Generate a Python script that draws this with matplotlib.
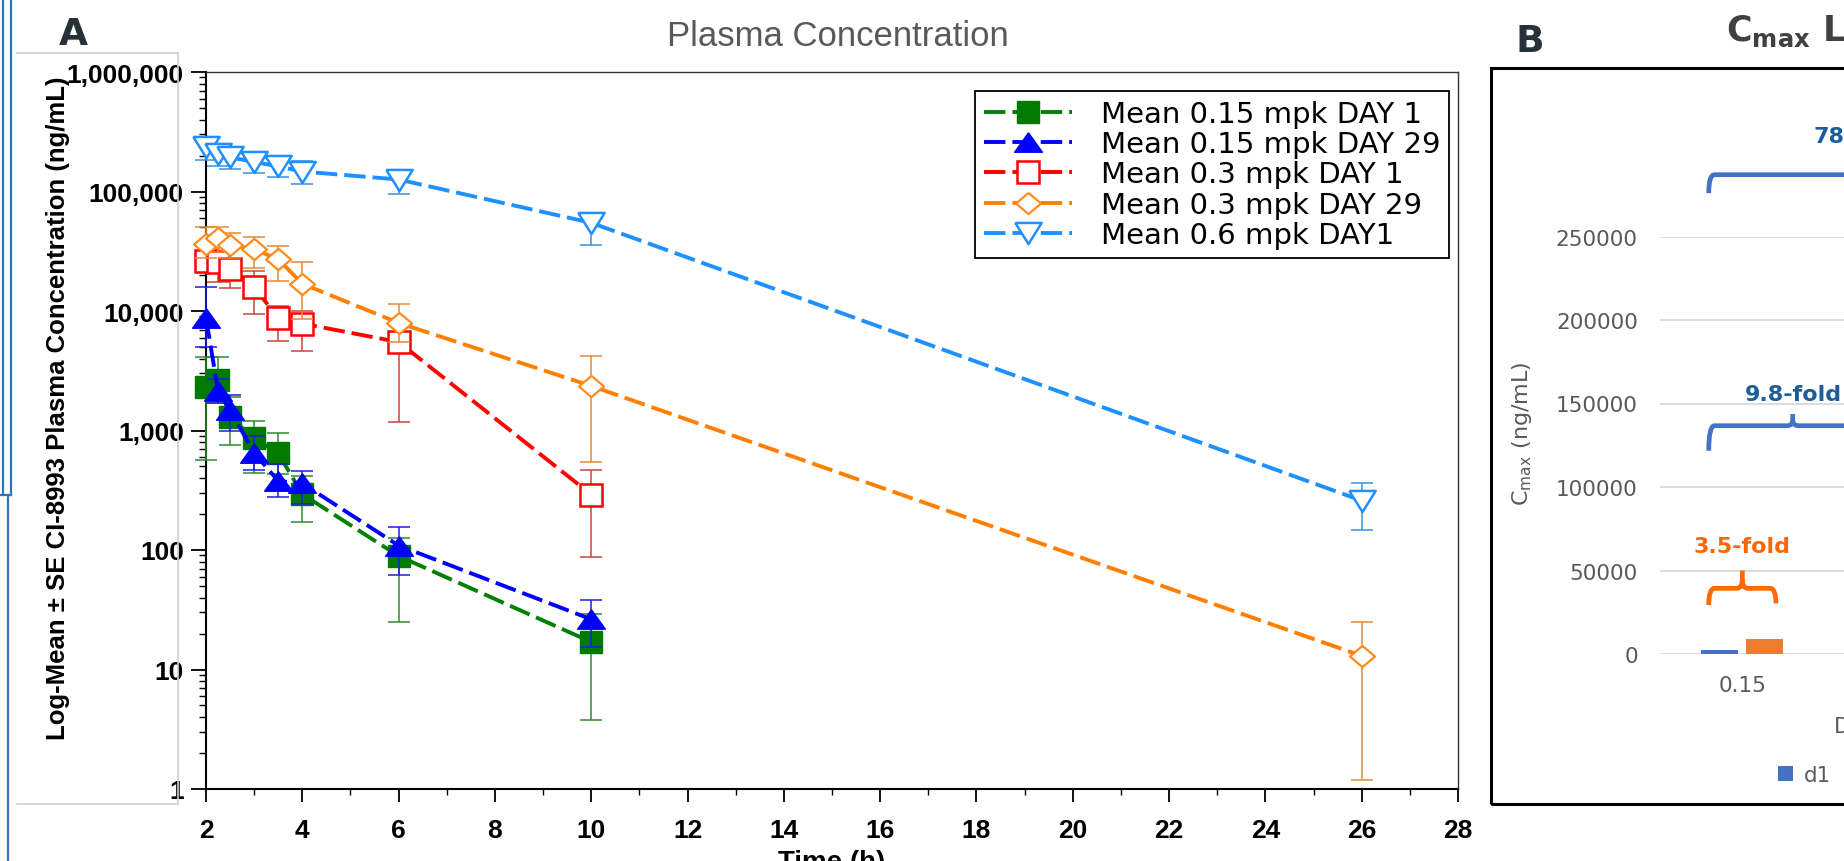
import numpy as np
import matplotlib
matplotlib.use("Agg")
import matplotlib.pyplot as plt
from matplotlib.path import Path
from matplotlib.patches import PathPatch, Rectangle
from matplotlib.lines import Line2D
from matplotlib.ticker import (FixedLocator, FixedFormatter, MultipleLocator,
                               LogLocator, NullFormatter)

# ---------------- data : panel A (plasma concentration, ng/mL) ----------------
TIME_SHORT = [2, 2.25, 2.5, 3, 3.5, 4, 6, 10]
TIME_LONG = [2, 2.25, 2.5, 3, 3.5, 4, 6, 10, 26]

d1_015_mean = [2320, 2650, 1290, 860, 645, 293, 89, 17]
d1_015_lo = [562, 1700, 760, 443, 430, 171, 25, 3.8]
d1_015_hi = [4100, 4100, 1900, 1210, 962, 414, 125, 29]

d29_015_mean = [8800, 2140, 1480, 649, 378, 361, 109, 26.3]
d29_015_lo = [5000, 1700, 1000, 470, 276, 242, 62, 15.3]
d29_015_hi = [16000, 2700, 2000, 900, 520, 458, 155, 38]

d1_03_mean = [26200, 25700, 22400, 15900, 8700, 7850, 5500, 291]
d1_03_lo = [21000, 17500, 15500, 9400, 5570, 4600, 1170, 87]
d1_03_hi = [30000, 30500, 27000, 21600, 11100, 10000, 7600, 467]

d29_03_mean = [36200, 40700, 35700, 32900, 27100, 16900, 7950, 2360, 13.0]
d29_03_lo = [28000, 31000, 28000, 23000, 17800, 8600, 5500, 541, 1.2]
d29_03_hi = [50600, 50000, 45000, 41700, 35000, 25800, 11400, 4200, 25]

d1_06_mean = [234000, 205000, 193000, 177000, 162000, 147000, 126000, 54700, 259]
d1_06_lo = [183000, 164000, 154000, 144000, 131000, 115000, 96000, 36000, 148]
d1_06_hi = [280000, 245000, 225000, 216000, 199000, 181000, 150000, 66000, 363]

SERIES_LABELS = ["Mean 0.15 mpk DAY 1", "Mean 0.15 mpk DAY 29", "Mean 0.3 mpk DAY 1",
                 "Mean 0.3 mpk DAY 29", "Mean 0.6 mpk DAY1"]

Y_TICKS = [1, 10, 100, 1000, 10000, 100000, 1000000]
Y_TICK_LABELS = ["1", "10", "100", "1,000", "10,000", "100,000", "1,000,000"]

# ---------------- data : panel B (Cmax bars) ----------------
DOSES = ["0.15", "0.3", "0.6"]
CMAX_D1 = [2600, 25000, 200000]
CMAX_D29 = [9100, 40000, np.nan]
B_Y_TICKS = [0, 50000, 100000, 150000, 200000, 250000]
FOLD_TEXT = ["3.5-fold", "9.8-fold", "78-fold"]

W, H = 1844, 862


def fx(px):
    return px / W


def fy(py):
    return 1 - py / H


plt.rcParams['font.family'] = ['Liberation Sans', 'DejaVu Sans']
fig = plt.figure(figsize=(W / 100, H / 100), dpi=100)

# ==================================================
# Panel A
# ==================================================
ax = fig.add_axes([fx(206), fy(790), fx(1458) - fx(206), fy(73) - fy(790)])

tri_up = [(0, 0.7), (-1, -0.7), (1, -0.7), (0, 0.7)]
tri_down = [(-1, 0.8), (1, 0.8), (0, -0.8), (-1, 0.8)]
diamond = [(0, 0.85), (1, 0), (0, -0.85), (-1, 0), (0, 0.85)]

series = [
    (TIME_SHORT, d1_015_mean, d1_015_lo, d1_015_hi,
     dict(lc='#008000', ec='#2F8A2F', mk='s', ms=16, mfc='#007A00', mec='#007A00', mew=1)),
    (TIME_SHORT, d29_015_mean, d29_015_lo, d29_015_hi,
     dict(lc='#0000FF', ec='#1E1EDC', mk=tri_up, ms=20, mfc='#0000FF', mec='#0000FF', mew=1)),
    (TIME_SHORT, d1_03_mean, d1_03_lo, d1_03_hi,
     dict(lc='#FF0000', ec='#C8453C', mk='s', ms=15.5, mfc='white', mec='#FF0000', mew=1.8)),
    (TIME_LONG, d29_03_mean, d29_03_lo, d29_03_hi,
     dict(lc='#FF8000', ec='#E38A35', mk=diamond, ms=18, mfc='white', mec='#FF8C1A', mew=1.6)),
    (TIME_LONG, d1_06_mean, d1_06_lo, d1_06_hi,
     dict(lc='#1E90FF', ec='#3C8FDF', mk=tri_down, ms=19, mfc='white', mec='#1E90FF', mew=1.8)),
]

for i, (t, m, lo, hi, st) in enumerate(series):
    m = np.array(m, dtype=float)
    yerr = [m - np.array(lo), np.array(hi) - m]
    z = 3 + 2 * i
    ax.errorbar(t, m, yerr=yerr, fmt='none', ecolor=st['ec'], elinewidth=1.1,
                capsize=8, capthick=1.1, zorder=z, clip_on=False)
    ax.plot(t, m, color=st['lc'], lw=2.8, dashes=(5.5, 1.8), marker=st['mk'], ms=st['ms'],
            mfc=st['mfc'], mec=st['mec'], mew=st['mew'], label=SERIES_LABELS[i],
            zorder=z + 1, clip_on=False)

ax.set_yscale('log')
ax.set_ylim(1, 1e6)
ax.set_xlim(2, 28)
ax.yaxis.set_major_locator(FixedLocator(Y_TICKS))
ax.yaxis.set_major_formatter(FixedFormatter(Y_TICK_LABELS))
ax.yaxis.set_minor_locator(LogLocator(base=10, subs=np.arange(2, 10)))
ax.yaxis.set_minor_formatter(NullFormatter())
ax.xaxis.set_major_locator(MultipleLocator(2))
ax.xaxis.set_minor_locator(MultipleLocator(1))
ax.tick_params(axis='y', which='major', direction='out', length=11, width=1.3, pad=5, labelsize=19)
ax.tick_params(axis='y', which='minor', direction='out', length=5, width=1.0)
ax.tick_params(axis='x', which='major', direction='out', length=9, width=1.3, pad=12, labelsize=19)
ax.tick_params(axis='x', which='minor', direction='out', length=4.5, width=1.0)
for lab in ax.get_xticklabels() + ax.get_yticklabels():
    lab.set_fontweight('bold')
for s in ['left', 'bottom']:
    ax.spines[s].set_linewidth(1.5)
    ax.spines[s].set_color('black')
for s in ['top', 'right']:
    ax.spines[s].set_linewidth(1.0)
    ax.spines[s].set_color('#333333')

leg = ax.legend(loc='upper right', bbox_to_anchor=(0.9928, 0.9735), borderaxespad=0,
                prop={'family': 'DejaVu Sans', 'size': 21}, frameon=True, fancybox=False,
                edgecolor='black', framealpha=1, handlelength=3.0, handletextpad=1.0,
                labelspacing=0.08, borderpad=0.3)
leg.get_frame().set_linewidth(1.3)

fig.text(fx(73), fy(45), 'A', ha='center', va='baseline', fontsize=27,
         fontweight='bold', color='#263238', family='DejaVu Sans')
fig.text(fx(838), fy(46), 'Plasma Concentration', ha='center', va='baseline', fontsize=25,
         color='#595959', family='Liberation Sans')
fig.text(fx(58), fy(408), 'Log-Mean ± SE CI-8993 Plasma Concentration (ng/mL)', rotation=90,
         ha='center', va='center', fontsize=18.5, fontweight='bold', family='Liberation Sans')
fig.text(fx(832), fy(850), 'Time (h)', ha='center', va='top', fontsize=20, fontweight='bold')

# ==================================================
# Panel B
# ==================================================
axb = fig.add_axes([fx(1660), fy(655), 494 / W, (655 - 237.5) / H])
xb = np.arange(len(DOSES))
axb.bar(xb - 0.137, CMAX_D1, width=0.225, color='#4472C4', label='d1', zorder=3)
axb.bar(xb + 0.137, CMAX_D29, width=0.225, color='#ED7D31', label='d29', zorder=3)
axb.set_xlim(-0.5, 2.5)
axb.set_ylim(0, 250000)
axb.set_yticks(B_Y_TICKS, [str(v) for v in B_Y_TICKS])
axb.set_xticks(xb, DOSES)
axb.grid(axis='y', color='#D9D9D9', lw=1.3)
axb.set_axisbelow(True)
for s in axb.spines.values():
    s.set_visible(False)
axb.tick_params(axis='y', length=0, pad=16, labelsize=15.5, labelcolor='#595959')
axb.tick_params(axis='x', length=0, pad=15, labelsize=15.5, labelcolor='#595959')
for lab in axb.get_xticklabels() + axb.get_yticklabels():
    lab.set_family('DejaVu Sans')


def brace(axx, x0, x1, xt, y_arm, y_bar, y_tip, color):
    cx = 0.035
    cy = (y_bar - y_arm) * 0.9
    verts = [(x0, y_arm), (x0, y_bar), (x0 + cx, y_bar),
             (xt - cx, y_bar), (xt, y_bar), (xt, y_bar + (y_tip - y_bar) * 0.5),
             (xt, y_tip),
             (xt, y_bar + (y_tip - y_bar) * 0.5), (xt, y_bar), (xt + cx, y_bar),
             (x1 - cx, y_bar), (x1, y_bar), (x1, y_bar - cy)]
    codes = [Path.MOVETO, Path.CURVE3, Path.CURVE3,
             Path.LINETO, Path.CURVE3, Path.CURVE3,
             Path.LINETO,
             Path.MOVETO, Path.CURVE3, Path.CURVE3,
             Path.LINETO, Path.CURVE3, Path.CURVE3]
    axx.add_patch(PathPatch(Path(verts, codes), fill=False, edgecolor=color, lw=3.4,
                            capstyle='butt', clip_on=False, zorder=4))


brace(axb, -0.204, 0.204, 0.0, 29300, 39300, 50000, '#FF6A00')
brace(axb, -0.204, 0.816, 0.306, 121700, 136700, 143700, '#4472C4')
brace(axb, -0.204, 1.58, 0.69, 276000, 287000, 294000, '#4472C4')
axb.text(0.0, 64400, FOLD_TEXT[0], ha='center', va='center', fontsize=16,
         fontweight='bold', color='#FF6600', family='DejaVu Sans', clip_on=False)
axb.text(0.31, 155700, FOLD_TEXT[1], ha='center', va='center', fontsize=16,
         fontweight='bold', color='#1B5E9B', family='DejaVu Sans', clip_on=False)
axb.text(0.43, 310000, FOLD_TEXT[2], ha='left', va='center', fontsize=16,
         fontweight='bold', color='#1B5E9B', family='DejaVu Sans', clip_on=False)

axb.legend(loc='center left', bbox_to_anchor=(fx(1778), fy(776)), bbox_transform=fig.transFigure,
           ncol=2, frameon=False, handlelength=0.7, handleheight=0.7, handletextpad=0.5,
           columnspacing=1.0, borderpad=0, borderaxespad=0,
           prop={'family': 'DejaVu Sans', 'size': 15.5}, labelcolor='#595959')

fig.add_artist(Rectangle((fx(1491), fy(805)), 1.1 - fx(1491), fy(69) - fy(805),
                         transform=fig.transFigure, fill=False, lw=2.2, edgecolor='black'))
fig.text(fx(1530), fy(52), 'B', ha='center', va='baseline', fontsize=27,
         fontweight='bold', color='#263238', family='DejaVu Sans')
fig.text(fx(1726), fy(41), r'C$_{\mathbf{max}}$ Levels', ha='left', va='baseline', fontsize=25,
         fontweight='bold', color='#404040', family='DejaVu Sans')
fig.text(fx(1522), fy(434), r'C$_{\mathrm{max}}$ (ng/mL)', rotation=90, ha='center', va='center',
         fontsize=16, color='#595959', family='DejaVu Sans')
fig.text(fx(1834), fy(727), 'Dose (mg/kg)', ha='left', va='center', fontsize=15.5,
         color='#595959', family='DejaVu Sans')

# screenshot frame remnants on the left
grey = dict(transform=fig.transFigure, color='#D0D0D0', lw=1.2)
fig.add_artist(Line2D([fx(17), fx(178)], [fy(54), fy(54)], **grey))
fig.add_artist(Line2D([fx(178), fx(178)], [fy(54), fy(805)], **grey))
fig.add_artist(Line2D([fx(17), fx(178)], [fy(805), fy(805)], **grey))
blue = dict(transform=fig.transFigure, color='#2E75B6', lw=1.6)
fig.add_artist(Line2D([fx(3), fx(3)], [fy(0), fy(496)], **blue))
fig.add_artist(Line2D([fx(11), fx(11)], [fy(0), fy(496)], **blue))
fig.add_artist(Line2D([fx(0), fx(11)], [fy(496), fy(496)], **blue))
fig.add_artist(Line2D([fx(8), fx(8)], [fy(496), fy(862)], **blue))

fig.savefig('out.png', dpi=100)
plt.close(fig)
